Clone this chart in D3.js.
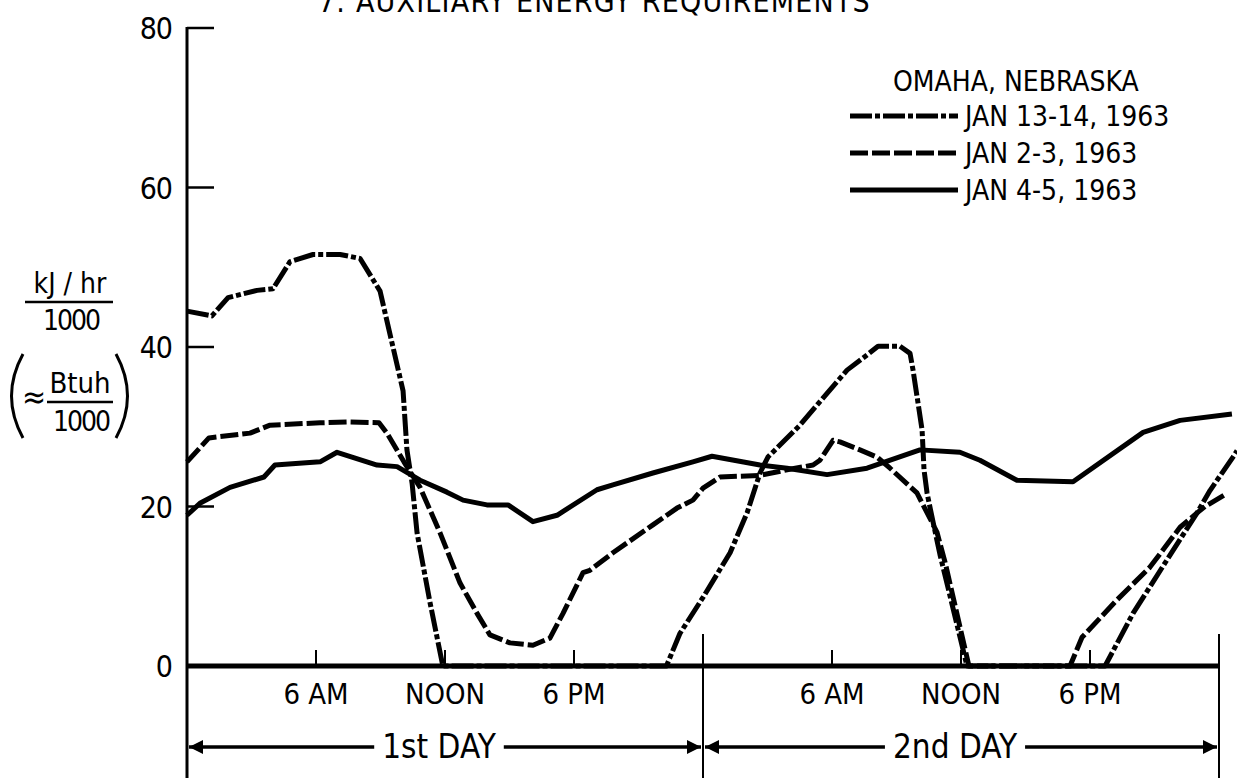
<!doctype html>
<html>
<head>
<meta charset="utf-8">
<script src="https://d3js.org/d3.v7.min.js"></script>
<title>Auxiliary Energy Requirements</title>
<style>
  body { margin: 0; background: #fff; }
  svg { display: block; }
  text { font-family: "Liberation Sans Narrow", "DejaVu Sans Condensed", "Arial Narrow", sans-serif; fill: #000; }
</style>
</head>
<body>
<svg width="1237" height="778"></svg>
<script>

// hours from midnight of 1st day, kJ/hr / 1000
var jan1314 = [[0,44.5],[1.16,43.9],[1.91,46.2],[3.26,47.1],[4.0,47.3],[4.79,50.7],[5.86,51.6],[7.12,51.6],
    [8.05,51.1],[8.98,47],[10.05,34.5],[10.23,27.1],[10.47,22.9],[10.7,16.7],[11.3,8],[11.9,0],[22.3,0],
    [22.93,4.1],[24.0,8.6],[25.26,14.2],[26.05,19.2],[26.65,24.2],[27.02,26.2],[28.51,30.2],[29.58,33.6],
    [30.7,37.1],[31.63,39],[32.14,40.1],[33.16,40.1],[33.63,39.2],[33.77,37.1],[34.0,33],[34.19,29.6],
    [34.28,24.6],[34.42,21.7],[34.65,18.7],[35.02,14],[36.28,0],[42.7,0],[44.0,6.6],[45.58,13.3],
    [46.98,19.2],[47.58,22],[48.65,26.2],[48.84,27]];

var jan23 = [[0,25.6],[1.02,28.6],[2.93,29.2],[3.86,30.2],[6.19,30.5],[7.44,30.6],[8.93,30.5],[9.3,29.2],
    [10.09,25.6],[10.84,22.4],[11.77,16.7],[12.7,10.4],[13.49,6.6],[14.09,3.9],[15.02,2.9],[16.09,2.6],
    [16.88,3.5],[17.49,6.6],[18.42,11.7],[18.74,12],[19.81,14.2],[21.67,17.7],[22.79,19.8],[23.53,20.8],
    [24.0,22.3],[24.79,23.7],[26.65,23.9],[27.91,24.6],[29.12,25.2],[29.44,25.8],[30.05,28.3],[30.37,28.1],
    [31.3,27.1],[32.09,26.2],[32.7,24.8],[33.95,21.7],[34.88,16.8],[35.26,13],[36.37,0],[41.07,0],
    [41.63,3.6],[43.26,8.3],[44.79,12.4],[46.19,17.4],[46.98,19.2],[47.35,20],[48.28,21.5]];

var jan45 = [[0,18.9],[0.6,20.4],[2.0,22.4],[3.58,23.7],[4.09,25.2],[6.19,25.6],[6.98,26.8],[8.84,25.2],
    [9.77,25],[10.84,23.3],[12.09,21.8],[12.84,20.8],[13.95,20.2],[14.93,20.2],[16.09,18.1],[17.21,18.9],
    [19.07,22.1],[19.81,22.7],[21.67,24.2],[23.53,25.6],[24.42,26.3],[26.65,25.2],[27.91,24.8],[29.77,24],
    [31.63,24.8],[34.09,27.1],[35.95,26.8],[36.88,25.8],[38.6,23.3],[41.21,23.1],[44.47,29.3],[46.19,30.8],
    [48.6,31.6]];

var yTicks = [0, 20, 40, 60, 80];
var timeTicks = [6, 12, 18, 30, 36, 42];
var timeLabels = ["6 AM", "NOON", "6 PM", "6 AM", "NOON", "6 PM"];
var dayBounds = [0, 24, 48];
var dayLabels = ["1st DAY", "2nd DAY"];
var legendLabels = ["JAN 13-14,  1963", "JAN 2-3,  1963", "JAN 4-5,  1963"];
var dashes = ["22,3,5,3", "18,4", null];

var svg = d3.select("svg");

var x = d3.scaleLinear().domain([0, 48]).range([187, 1219]),
    y = d3.scaleLinear().domain([0, 80]).range([666, 28]);

// title, cut off at the top edge
svg.append("text")
   .attr("x", 318).attr("y", 12)
   .attr("font-size", "30px")
   .attr("letter-spacing", "1.2px")
   .text("7.  AUXILIARY  ENERGY  REQUIREMENTS");

// y axis
svg.append("line")
   .attr("x1", x(0)).attr("x2", x(0))
   .attr("y1", y(80) - 1).attr("y2", 778)
   .attr("stroke", "#000").attr("stroke-width", 3);

svg.selectAll(".ytick")
   .data(yTicks.filter(function(d) { return d > 0; }))
   .enter().append("line")
   .attr("x1", x(0)).attr("x2", x(0) + 27)
   .attr("y1", function(d) { return y(d); })
   .attr("y2", function(d) { return y(d); })
   .attr("stroke", "#000").attr("stroke-width", 2.5);

svg.selectAll(".ylab")
   .data(yTicks)
   .enter().append("text")
   .attr("x", 172)
   .attr("y", function(d) { return y(d) + 11; })
   .attr("text-anchor", "end")
   .attr("font-size", "30px")
   .attr("letter-spacing", "-1px")
   .text(function(d) { return d; });

// baseline
svg.append("line")
   .attr("x1", x(0)).attr("x2", x(48))
   .attr("y1", y(0)).attr("y2", y(0))
   .attr("stroke", "#000").attr("stroke-width", 5);

svg.selectAll(".xtick")
   .data(timeTicks)
   .enter().append("line")
   .attr("x1", function(d) { return x(d); })
   .attr("x2", function(d) { return x(d); })
   .attr("y1", y(0) - 16).attr("y2", y(0))
   .attr("stroke", "#000").attr("stroke-width", 2);

svg.selectAll(".xlab")
   .data(timeTicks)
   .enter().append("text")
   .attr("x", function(d) { return x(d); })
   .attr("y", 704)
   .attr("text-anchor", "middle")
   .attr("font-size", "29px")
   .text(function(d, i) { return timeLabels[i]; });

// day separators
svg.selectAll(".daysep")
   .data(dayBounds.slice(1))
   .enter().append("line")
   .attr("x1", function(d) { return x(d); })
   .attr("x2", function(d) { return x(d); })
   .attr("y1", 634).attr("y2", 778)
   .attr("stroke", "#000").attr("stroke-width", 2);

// day arrows
var defs = svg.append("defs");
defs.append("marker")
    .attr("id", "arrow")
    .attr("viewBox", "0 0 10 10")
    .attr("refX", 10).attr("refY", 5)
    .attr("markerWidth", 6).attr("markerHeight", 4)
    .attr("markerUnits", "strokeWidth")
    .attr("orient", "auto")
    .append("path")
    .attr("d", "M0,0 L10,5 L0,10 Z")
    .attr("fill", "#000");

dayLabels.forEach(function(lab, i) {
    var x0 = x(dayBounds[i]), x1 = x(dayBounds[i + 1]), xm = (x0 + x1) / 2 - 6;
    var t = svg.append("text")
       .attr("x", xm).attr("y", 758)
       .attr("text-anchor", "middle")
       .attr("font-size", "33px")
       .text(lab);
    var w = t.node().getComputedTextLength() / 2 + 8;
    svg.append("line")
       .attr("x1", xm - w).attr("x2", x0 + 2)
       .attr("y1", 747).attr("y2", 747)
       .attr("stroke", "#000").attr("stroke-width", 3.5)
       .attr("marker-end", "url(#arrow)");
    svg.append("line")
       .attr("x1", xm + w).attr("x2", x1 - 2)
       .attr("y1", 747).attr("y2", 747)
       .attr("stroke", "#000").attr("stroke-width", 3.5)
       .attr("marker-end", "url(#arrow)");
});

// y axis title
var yt = svg.append("g");
yt.append("text").attr("x", 70).attr("y", 293).attr("text-anchor", "middle")
  .attr("font-size", "28px").text("kJ / hr");
yt.append("line").attr("x1", 25).attr("x2", 113).attr("y1", 302).attr("y2", 302)
  .attr("stroke", "#000").attr("stroke-width", 2.5);
yt.append("text").attr("x", 71).attr("y", 330).attr("text-anchor", "middle")
  .attr("font-size", "28px").attr("letter-spacing", "-2px").text("1000");
yt.append("path").attr("d", "M23,354 Q0,396 23,438")
  .attr("fill", "none").attr("stroke", "#000").attr("stroke-width", 3);
yt.append("path").attr("d", "M116,354 Q139,396 116,438")
  .attr("fill", "none").attr("stroke", "#000").attr("stroke-width", 3);
yt.append("text").attr("x", 34).attr("y", 408).attr("text-anchor", "middle")
  .attr("font-size", "32px").text("≈");
yt.append("text").attr("x", 80).attr("y", 393).attr("text-anchor", "middle")
  .attr("font-size", "29px").text("Btuh");
yt.append("line").attr("x1", 47).attr("x2", 113).attr("y1", 402).attr("y2", 402)
  .attr("stroke", "#000").attr("stroke-width", 2.5);
yt.append("text").attr("x", 81).attr("y", 431).attr("text-anchor", "middle")
  .attr("font-size", "28px").attr("letter-spacing", "-2px").text("1000");

// data lines
var line = d3.line()
    .x(function(d) { return x(d[0]); })
    .y(function(d) { return y(d[1]); });

[jan1314, jan23, jan45].forEach(function(s, i) {
    svg.append("path")
       .datum(s)
       .attr("d", line)
       .attr("fill", "none")
       .attr("stroke", "#000")
       .attr("stroke-width", 5)
       .attr("stroke-linejoin", "round")
       .attr("stroke-dasharray", dashes[i]);
});

// legend
svg.append("text")
   .attr("x", 893).attr("y", 91)
   .attr("font-size", "28px")
   .text("OMAHA, NEBRASKA");

var leg = svg.selectAll(".leg")
   .data(legendLabels)
   .enter().append("g")
   .attr("transform", function(d, i) { return "translate(0," + [116, 153, 190][i] + ")"; });

leg.append("line")
   .attr("x1", 850).attr("x2", 958)
   .attr("stroke", "#000").attr("stroke-width", 5)
   .attr("stroke-dasharray", function(d, i) { return dashes[i]; });

leg.append("text")
   .attr("x", 965).attr("y", 10)
   .attr("font-size", "28px")
   .text(function(d) { return d; });

</script>
</body>
</html>
